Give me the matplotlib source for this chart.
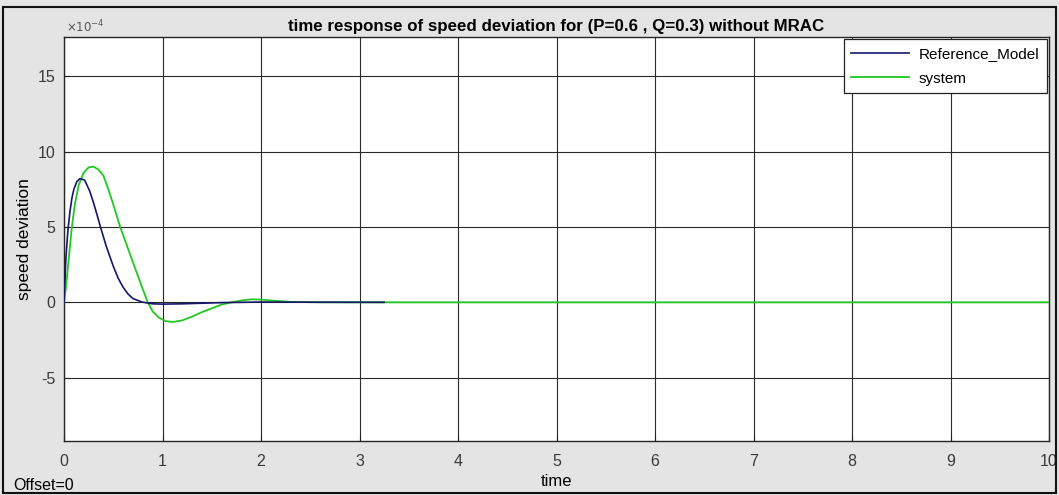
import matplotlib.pyplot as plt
from matplotlib.patches import Rectangle

# values (y in units of 1e-4)
t_ref = [0, 0.01, 0.02, 0.04, 0.06, 0.08, 0.10, 0.13, 0.16, 0.19, 0.21, 0.26,
         0.30, 0.34, 0.37, 0.43, 0.50, 0.55, 0.60, 0.65, 0.70, 0.79, 0.90, 1.0,
         1.2, 1.4, 1.6, 1.8, 2.0, 2.4, 3.25]
v_ref = [0, 1.5, 3.0, 4.8, 6.0, 6.9, 7.5, 8.0, 8.2, 8.15, 8.1, 7.4,
         6.6, 5.7, 5.0, 3.7, 2.4, 1.6, 1.0, 0.55, 0.25, 0.02, -0.1, -0.12,
         -0.1, -0.06, -0.02, 0.0, 0.02, 0.01, 0.0]

t_sys = [0, 0.02, 0.05, 0.08, 0.11, 0.15, 0.20, 0.25, 0.30, 0.35, 0.40, 0.45,
         0.50, 0.57, 0.62, 0.67, 0.72, 0.77, 0.81, 0.85, 0.90, 0.96, 1.03, 1.11,
         1.20, 1.30, 1.40, 1.50, 1.60, 1.70, 1.80, 1.90, 2.00, 2.15, 2.30, 2.60, 10]
v_sys = [0, 1.0, 3.0, 5.0, 6.5, 7.8, 8.6, 8.95, 9.0, 8.8, 8.4, 7.5,
         6.5, 5.0, 4.1, 3.2, 2.3, 1.4, 0.7, 0.0, -0.6, -1.0, -1.25, -1.3,
         -1.2, -0.95, -0.65, -0.4, -0.15, 0.0, 0.12, 0.2, 0.18, 0.1, 0.03, 0.0, 0.0]

xticks = list(range(0, 11))
yticks = [-5, 0, 5, 10, 15]

plt.rcParams['font.family'] = ['Liberation Sans', 'DejaVu Sans']
plt.rcParams['axes.unicode_minus'] = False

fig = plt.figure(figsize=(10.59, 4.95), dpi=100, facecolor='#e4e4e4')
ax = fig.add_axes([64/1059, 1 - 441/495, 985/1059, 404/495])

ax.plot(t_sys, v_sys, color='#22c822', lw=1.3, label='system', zorder=3)
ax.plot(t_ref, v_ref, color='#16166a', lw=1.2, label='Reference_Model', zorder=4)

ax.set_xlim(0, 10)
ax.set_ylim(-9.2, 17.6)
ax.set_xticks(xticks)
ax.set_yticks(yticks)
ax.grid(True, color='#2a2a2a', lw=0.8)
ax.tick_params(direction='in', length=4, labelsize=11.5, colors='#222222',
               labelcolor='#3a3a3a')
ax.tick_params(axis='x', pad=9)
ax.tick_params(axis='y', pad=6)
for s in ax.spines.values():
    s.set_color('#262626')
    s.set_linewidth(1.0)

ax.set_title('time response of speed deviation for (P=0.6 , Q=0.3) without MRAC',
             fontsize=12.2, fontweight='bold', pad=4)
ax.set_xlabel('time', fontsize=12, labelpad=4)
ax.set_ylabel('speed deviation', fontsize=12.5, labelpad=4)

fig.text(66/1059, 1 - 27/495, r'$\times10^{-4}$', fontsize=8.5, color='#555555',
         va='center', ha='left')
fig.text(13/1059, 1 - 486/495, 'Offset=0', fontsize=11.5, va='center', ha='left')

h, l = ax.get_legend_handles_labels()
leg = ax.legend(h[::-1], l[::-1], loc='upper right', fontsize=11, frameon=True,
                fancybox=False, edgecolor='#222222', framealpha=1,
                borderaxespad=0.15, handlelength=3.8, borderpad=0.5,
                labelspacing=0.7, handletextpad=0.6)
leg.get_frame().set_linewidth(0.9)

fig.patches.append(Rectangle((3/1059, 2/495), 1053/1059, 486/495,
                             transform=fig.transFigure, fill=False,
                             edgecolor='#111111', lw=1.5))

fig.savefig('out.png', dpi=100, facecolor=fig.get_facecolor())
